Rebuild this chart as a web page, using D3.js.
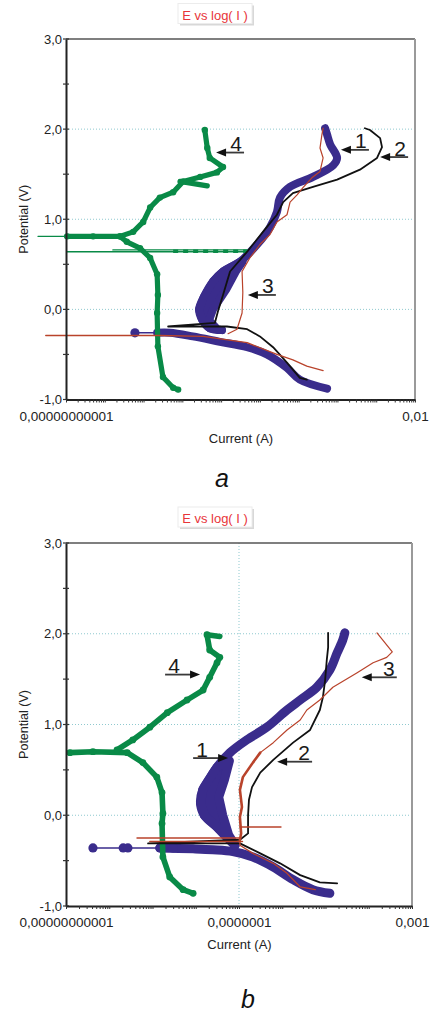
<!DOCTYPE html>
<html><head><meta charset="utf-8">
<script src="https://cdn.jsdelivr.net/npm/d3@7"></script>
<style>
body{margin:0;background:#fff}
svg{display:block}
text{font-family:"Liberation Sans",Arial,sans-serif}
</style>
</head><body>
<svg id="c" width="431" height="1012"></svg>
<script>
// ---------- shared axis data ----------
const yTickValues = [3, 2, 1, 0, -1];
const yTickLabels = ["3,0", "2,0", "1,0", "0,0", "-1,0"];
const yMinorTicks = [2.5, 1.5, 0.5, -0.5];
const yGridValues = [2, 1, 0];
const titleText = "E vs log( I )";

// ---------- panel a ----------
const aXDomain = [1e-11, 1e-2];
const aXTickValues = [1e-11, 1e-2];
const aXTickLabels = ["0,00000000001", "0,01"];
const aXGrid = [];
// [current (A), potential (V)]
const aBlueCath = [[5.4e-5,-0.88],[1.07e-5,-0.78],[5.0e-6,-0.65],[1.51e-6,-0.50],[4.7e-7,-0.42],[9.3e-8,-0.36],[1.86e-8,-0.30],[4.8e-9,-0.26],[2.24e-9,-0.26]];
const aBlueAnod = [[1.05e-7,-0.23],[5.1e-8,-0.21],[3.2e-8,-0.11],[2.7e-8,0.00],[3.6e-8,0.14],[6.2e-8,0.31],[1.12e-7,0.42],[3.09e-7,0.53],[8.5e-7,0.72],[1.82e-6,0.91],[2.75e-6,1.08],[3.3e-6,1.24],[6.0e-6,1.36],[2.34e-5,1.47],[7.8e-5,1.60],[9.8e-5,1.68],[6.5e-5,1.83],[5.4e-5,1.94],[4.8e-5,2.01]];
const aBlueBand = [[8.0e-8,-0.22],[4.9e-8,-0.12],[6.2e-8,0.0],[1.35e-7,0.22],[2.4e-7,0.42],[3.6e-7,0.53]];
const aBlueTail = [[2.24e-9,-0.26],[6.0e-10,-0.26]];
const aBlueDots = [[6.0e-10,-0.26]];
const aBlack = [[1.62e-5,-0.78],[1.07e-5,-0.76],[5.0e-6,-0.59],[2.19e-6,-0.42],[1.0e-6,-0.30],[4.7e-7,-0.22],[1.41e-7,-0.19],[4.3e-9,-0.19],[6.9e-8,-0.15],[8.3e-8,-0.02],[1.12e-7,0.16],[1.70e-7,0.42],[4.7e-7,0.64],[1.20e-6,0.86],[2.75e-6,1.05],[3.98e-6,1.19],[7.1e-6,1.29],[2.34e-5,1.36],[9.8e-5,1.44],[3.8e-4,1.55],[1.05e-3,1.68],[1.41e-3,1.80],[1.26e-3,1.90],[6.9e-4,1.99],[5.1e-4,2.01]];
const aRedCath = [[3.0e-12,-0.29],[2.63e-9,-0.29],[3.4e-8,-0.30],[4.7e-7,-0.37],[2.75e-6,-0.50],[7.1e-6,-0.56],[1.62e-5,-0.63],[4.27e-5,-0.68]];
const aRedAnod = [[1.51e-7,-0.27],[2.57e-7,-0.22],[3.47e-7,-0.04],[3.63e-7,0.19],[3.47e-7,0.42],[5.5e-7,0.57],[1.0e-6,0.72],[1.82e-6,0.83],[2.75e-6,0.97],[5.0e-6,1.05],[6.0e-6,1.19],[9.1e-6,1.27],[1.29e-5,1.35],[2.19e-5,1.46],[3.55e-5,1.53],[4.27e-5,1.68],[3.55e-5,1.79],[3.98e-5,1.94],[4.27e-5,2.01]];
const aRedSpikes = [];
const aGreenLow = [[7.8e-9,-0.89],[5.8e-9,-0.87],[3.16e-9,-0.75],[2.34e-9,-0.41],[2.24e-9,-0.04],[2.34e-9,0.16],[2.24e-9,0.39],[1.48e-9,0.57],[8.1e-10,0.68],[3.7e-10,0.75],[2.45e-10,0.81],[5.0e-11,0.81],[1.07e-11,0.81]];
const aGreenUp = [[2.45e-10,0.81],[5.4e-10,0.86],[9.8e-10,0.97],[1.48e-9,1.13],[2.63e-9,1.24],[5.8e-9,1.30],[1.05e-8,1.42],[2.88e-8,1.47],[7.8e-8,1.52],[1.12e-7,1.58],[5.1e-8,1.68],[4.4e-8,1.79],[3.8e-8,1.99]];
const aGreenStub = [[8.7e-9,1.42],[4.4e-8,1.37]];
const aGreenThin = [[[1.07e-11,0.81],[1.9e-12,0.81]],[[1.07e-11,0.64],[4.7e-7,0.64]],[[1.62e-10,0.66],[4.7e-7,0.66]]];
const aGreenDash = [[5.8e-9,0.645],[4.7e-7,0.645]];
const aLabels = ["1","2","3","4"];
const aLabelI = [1.23e-4, 1.26e-3, 4.9e-7, 7.4e-8];
const aLabelE = [1.77, 1.69, 0.16, 1.74];
const aLabelDir = ["left","left","left","left"];

// ---------- panel b ----------
const bXDomain = [1e-11, 1e-3];
const bXTickValues = [1e-11, 1e-7, 1e-3];
const bXTickLabels = ["0,00000000001", "0,0000001", "0,001"];
const bXGrid = [1e-7];
const bBlueCath = [[1.26e-5,-0.86],[5.1e-6,-0.82],[1.78e-6,-0.71],[6.2e-7,-0.57],[2.1e-7,-0.46],[7.2e-8,-0.40],[2.5e-8,-0.38],[8.7e-9,-0.37],[1.48e-9,-0.36]];
const bBlueAnod = [[8.1e-8,-0.33],[5.2e-8,-0.24],[3.1e-8,-0.13],[1.58e-8,0.0],[1.29e-8,0.13],[1.45e-8,0.28],[2.0e-8,0.39],[3.1e-8,0.53],[6.2e-8,0.69],[1.51e-7,0.83],[4.4e-7,0.97],[1.29e-6,1.16],[2.6e-6,1.27],[6.3e-6,1.41],[1.26e-5,1.60],[1.86e-5,1.79],[2.5e-5,1.93],[2.8e-5,2.01]];
const bBlueBand = [[5.8e-8,-0.22],[4.2e-8,0.0],[3.4e-8,0.2],[4.6e-8,0.39],[6.0e-8,0.6]];
const bBlueTail = [[1.48e-9,-0.36],[4.2e-11,-0.36]];
const bBlueDots = [[4.2e-11,-0.36],[2.1e-10,-0.36],[2.7e-10,-0.36],[1.48e-9,-0.36],[3.0e-9,-0.36]];
const bBlack = [[1.86e-5,-0.75],[7.4e-6,-0.74],[2.6e-6,-0.66],[8.9e-7,-0.53],[3.1e-7,-0.42],[1.05e-7,-0.31],[7.9e-10,-0.31],[1.05e-7,-0.27],[1.62e-7,-0.20],[1.62e-7,0.0],[1.70e-7,0.17],[2.0e-7,0.31],[3.1e-7,0.47],[6.2e-7,0.61],[1.78e-6,0.80],[4.4e-6,0.94],[7.4e-6,1.16],[8.7e-6,1.30],[9.8e-6,1.49],[1.07e-5,1.71],[1.15e-5,1.85],[1.15e-5,2.01]];
const bRedCath = [[1.05e-7,-0.27],[1.05e-7,-0.33],[2.1e-7,-0.42],[6.2e-7,-0.53],[1.29e-6,-0.64],[2.6e-6,-0.79],[5.8e-6,-0.82]];
const bRedAnod = [[1.55e-4,2.01],[3.5e-4,1.80],[2.6e-4,1.74],[1.26e-4,1.68],[5.4e-5,1.57],[1.48e-5,1.41],[7.4e-6,1.27],[3.7e-6,1.16],[2.6e-6,1.05],[1.29e-6,0.94],[6.2e-7,0.80],[3.1e-7,0.69]];
const bRedAnodLow = [[3.1e-7,0.69],[2.1e-7,0.58],[1.23e-7,0.42],[1.05e-7,0.28],[1.17e-7,0.09],[1.05e-7,-0.02],[1.12e-7,-0.20],[1.05e-7,-0.27]];
const bRedSpikes = [[[4.4e-10,-0.25],[1.05e-7,-0.25]],[[8.7e-10,-0.29],[1.2e-7,-0.29]],[[1.05e-7,-0.13],[9.3e-7,-0.13]]];
const bGreenLow = [[8.7e-9,-0.86],[5.1e-9,-0.82],[2.5e-9,-0.68],[1.74e-9,-0.46],[1.66e-9,-0.09],[1.74e-9,0.02],[1.66e-9,0.25],[1.26e-9,0.42],[6.0e-10,0.58],[2.6e-10,0.69],[4.2e-11,0.70],[1.23e-11,0.69]];
const bGreenUp = [[1.51e-10,0.72],[3.5e-10,0.83],[8.7e-10,0.97],[2.2e-9,1.13],[6.3e-9,1.27],[1.48e-8,1.38],[2.1e-8,1.52],[3.1e-8,1.68],[3.6e-8,1.74],[2.1e-8,1.82],[1.82e-8,1.99]];
const bGreenStub = [[1.82e-8,1.99],[3.6e-8,1.97]];
const bGreenThin = [];
const bGreenDash = [];
const bLabels = ["4","1","2","3"];
const bLabelI = [1.26e-8, 5.6e-8, 7.6e-7, 6.9e-5];
const bLabelE = [1.55, 0.63, 0.59, 1.52];
const bLabelDir = ["right","right","left","left"];

// ---------- drawing ----------
const svg = d3.select("#c");
const BLUE = "#3a2c8c", GREEN = "#098a47", BLACK = "#111", RED = "#b9432b";

function panel(o) {
  const g = svg.append("g");
  const x = d3.scaleLog().domain(o.xDomain).range([o.left, o.right]);
  const y = d3.scaleLinear().domain([-1, 3]).range([o.bottom, o.top]);
  const line = d3.line().x(d => x(d[0])).y(d => y(d[1]));
  const smooth = d3.line().x(d => x(d[0])).y(d => y(d[1])).curve(d3.curveCatmullRom.alpha(0.5));

  // title
  const tb = g.append("g");
  tb.append("rect").attr("x", 180).attr("y", o.titleY - 14).attr("width", 74).attr("height", 20)
    .attr("fill", "#d8d8d8");
  tb.append("rect").attr("x", 178).attr("y", o.titleY - 16).attr("width", 74).attr("height", 20)
    .attr("fill", "#fff").attr("stroke", "#ececec");
  tb.append("text").attr("x", 215).attr("y", o.titleY).attr("text-anchor", "middle")
    .attr("font-size", 13).attr("fill", "#e8353a").text(titleText);

  // grid
  yGridValues.forEach(v => g.append("line").attr("x1", o.left).attr("x2", o.right)
    .attr("y1", y(v)).attr("y2", y(v)).attr("stroke", "#8fc9cf").attr("stroke-width", 1)
    .attr("stroke-dasharray", "1,2"));
  o.xGrid.forEach(v => g.append("line").attr("x1", x(v)).attr("x2", x(v))
    .attr("y1", o.top).attr("y2", o.bottom).attr("stroke", "#8fc9cf").attr("stroke-width", 1)
    .attr("stroke-dasharray", "1,2"));

  // frame top/right
  g.append("line").attr("x1", o.left).attr("x2", o.right).attr("y1", o.top).attr("y2", o.top)
    .attr("stroke", "#555").attr("stroke-width", 1.5);
  g.append("line").attr("x1", o.right).attr("x2", o.right).attr("y1", o.top).attr("y2", o.bottom)
    .attr("stroke", "#9a9a9a").attr("stroke-width", 2);

  const path = (data, color, w, gen) => g.append("path").datum(data).attr("d", (gen || line))
    .attr("fill", "none").attr("stroke", color).attr("stroke-width", w)
    .attr("stroke-linejoin", "round").attr("stroke-linecap", "round");

  // blue (curve 1)
  path(o.blueTail, BLUE, 1.5);
  path(o.blueCath, BLUE, o.blueW, smooth);
  path(o.blueAnod, BLUE, o.blueW, smooth);
  // wide band near the corrosion potential: area between anodic branch and its right edge
  const eMax = o.blueBand[o.blueBand.length - 1][1];
  const blob = o.blueAnod.filter(d => d[1] <= eMax).concat(o.blueBand.slice().reverse());
  g.append("path").datum(blob).attr("d", d => line(d) + "Z")
    .attr("fill", BLUE).attr("stroke", BLUE).attr("stroke-width", o.blueW).attr("stroke-linejoin", "round");
  g.selectAll(null).data(o.blueDots).enter().append("circle")
    .attr("cx", d => x(d[0])).attr("cy", d => y(d[1])).attr("r", 4.6).attr("fill", BLUE);

  // green (curve 4)
  o.greenThin.forEach(s => path(s, GREEN, 1.4));
  if (o.greenDash.length) path(o.greenDash, GREEN, 3.5).attr("stroke-dasharray", "5,5").attr("stroke-linecap", "butt");
  path(o.greenLow, GREEN, o.greenW);
  path(o.greenUp, GREEN, o.greenW);
  path(o.greenStub, GREEN, o.greenW);
  [o.greenLow, o.greenUp].forEach(s => g.selectAll(null).data(s).enter().append("circle")
    .attr("cx", d => x(d[0])).attr("cy", d => y(d[1])).attr("r", o.greenW / 2 + 0.6).attr("fill", GREEN));

  // black (curve 2)
  path(o.black, BLACK, 1.8);

  // red (curve 3)
  path(o.redCath, RED, 1.3);
  path(o.redAnod, RED, 1.2);
  if (o.redAnodLow) path(o.redAnodLow, RED, 2.6);
  o.redSpikes.forEach(s => path(s, RED, 1.6));

  // y axis
  const yAxis = d3.axisLeft(y).tickValues(yTickValues)
    .tickFormat(d => yTickLabels[yTickValues.indexOf(d)]).tickSize(0).tickPadding(4).tickSizeOuter(0);
  const ya = g.append("g").attr("transform", `translate(${o.left},0)`).call(yAxis);
  ya.select(".domain").attr("stroke", "#222").attr("stroke-width", 2);
  ya.selectAll("text").attr("font-size", 13).attr("fill", "#222")
    .attr("font-family", '"Liberation Sans",Arial,sans-serif');
  yTickValues.concat(yMinorTicks).forEach(v => g.append("line")
    .attr("x1", o.left - 3).attr("x2", o.left + 3).attr("y1", y(v)).attr("y2", y(v))
    .attr("stroke", "#333").attr("stroke-width", 1.2));

  // x axis minor ticks
  const tv = [];
  const d0 = Math.round(Math.log10(o.xDomain[0])), d1 = Math.round(Math.log10(o.xDomain[1]));
  for (let e = d0; e < d1; e++) for (let k = 1; k <= 9; k++) tv.push(k * Math.pow(10, e));
  tv.push(Math.pow(10, d1));
  const xMinor = d3.axisBottom(x).tickValues(tv).tickFormat("").tickSize(3).tickSizeOuter(0);
  const xm = g.append("g").attr("transform", `translate(0,${o.bottom})`).call(xMinor);
  xm.select(".domain").attr("stroke", "#222").attr("stroke-width", 2);
  xm.selectAll(".tick line").attr("stroke", "#333").attr("stroke-width", 1);
  const xLab = d3.axisBottom(x).tickValues(o.xTickValues)
    .tickFormat(d => o.xTickLabels[o.xTickValues.indexOf(d)]).tickSize(0).tickPadding(11.5);
  const xl = g.append("g").attr("transform", `translate(0,${o.bottom})`).call(xLab);
  xl.select(".domain").remove();
  xl.selectAll("text").attr("font-size", 13.5).attr("fill", "#222")
    .attr("font-family", '"Liberation Sans",Arial,sans-serif');

  // axis titles
  g.append("text").attr("x", (o.left + o.right) / 2 + 0.5).attr("y", o.bottom + 43)
    .attr("text-anchor", "middle").attr("font-size", 13).attr("fill", "#222").text("Current (A)");
  g.append("text").attr("transform", `translate(27.5,${(o.top + o.bottom) / 2}) rotate(-90)`)
    .attr("text-anchor", "middle").attr("font-size", 12.5).attr("fill", "#222").text("Potential (V)");

  // curve annotations
  o.labels.forEach((lab, i) => {
    const tx = x(o.labelI[i]), ty = y(o.labelE[i]);
    const L = o.arrowLen;
    const left = o.labelDir[i] === "left";
    const x1 = left ? tx : tx - L, x2 = left ? tx + L : tx;
    g.append("line").attr("x1", left ? tx + 7 : x1).attr("x2", left ? x2 : tx - 7)
      .attr("y1", ty).attr("y2", ty).attr("stroke", "#3a3a3a").attr("stroke-width", 1.8);
    const s = left ? 1 : -1;
    g.append("path").attr("d", `M${tx},${ty} L${tx + s * 10},${ty - 4} L${tx + s * 10},${ty + 4} Z`)
      .attr("fill", "#111");
    g.append("text").attr("x", left ? x2 - 8 : x1 + 9).attr("y", ty - 1.5)
      .attr("text-anchor", "middle").attr("font-size", 21).attr("fill", "#1a1a1a").text(lab);
  });

  // panel letter
  g.append("text").attr("x", o.letterX).attr("y", o.letterY).attr("text-anchor", "middle")
    .attr("font-family", '"Liberation Serif","Times New Roman",serif').attr("font-style", "italic")
    .attr("font-size", 25).attr("fill", "#111").text(o.letter);
}

panel({
  left: 66, right: 415, top: 39, bottom: 399.5, titleY: 19.5,
  xDomain: aXDomain, xTickValues: aXTickValues, xTickLabels: aXTickLabels, xGrid: aXGrid,
  blueCath: aBlueCath, blueAnod: aBlueAnod, blueBand: aBlueBand, blueTail: aBlueTail, blueDots: aBlueDots, blueW: 8,
  black: aBlack, redCath: aRedCath, redAnod: aRedAnod, redAnodLow: null, redSpikes: aRedSpikes,
  greenLow: aGreenLow, greenUp: aGreenUp, greenStub: aGreenStub, greenThin: aGreenThin, greenDash: aGreenDash, greenW: 5.2,
  labels: aLabels, labelI: aLabelI, labelE: aLabelE, labelDir: aLabelDir, arrowLen: 28,
  letter: "a", letterX: 222, letterY: 487
});
panel({
  left: 66, right: 412, top: 543, bottom: 906, titleY: 523,
  xDomain: bXDomain, xTickValues: bXTickValues, xTickLabels: bXTickLabels, xGrid: bXGrid,
  blueCath: bBlueCath, blueAnod: bBlueAnod, blueBand: bBlueBand, blueTail: bBlueTail, blueDots: bBlueDots, blueW: 9,
  black: bBlack, redCath: bRedCath, redAnod: bRedAnod, redAnodLow: bRedAnodLow, redSpikes: bRedSpikes,
  greenLow: bGreenLow, greenUp: bGreenUp, greenStub: bGreenStub, greenThin: bGreenThin, greenDash: bGreenDash, greenW: 5.6,
  labels: bLabels, labelI: bLabelI, labelE: bLabelE, labelDir: bLabelDir, arrowLen: 35,
  letter: "b", letterX: 248, letterY: 1008
});
</script>
</body></html>
